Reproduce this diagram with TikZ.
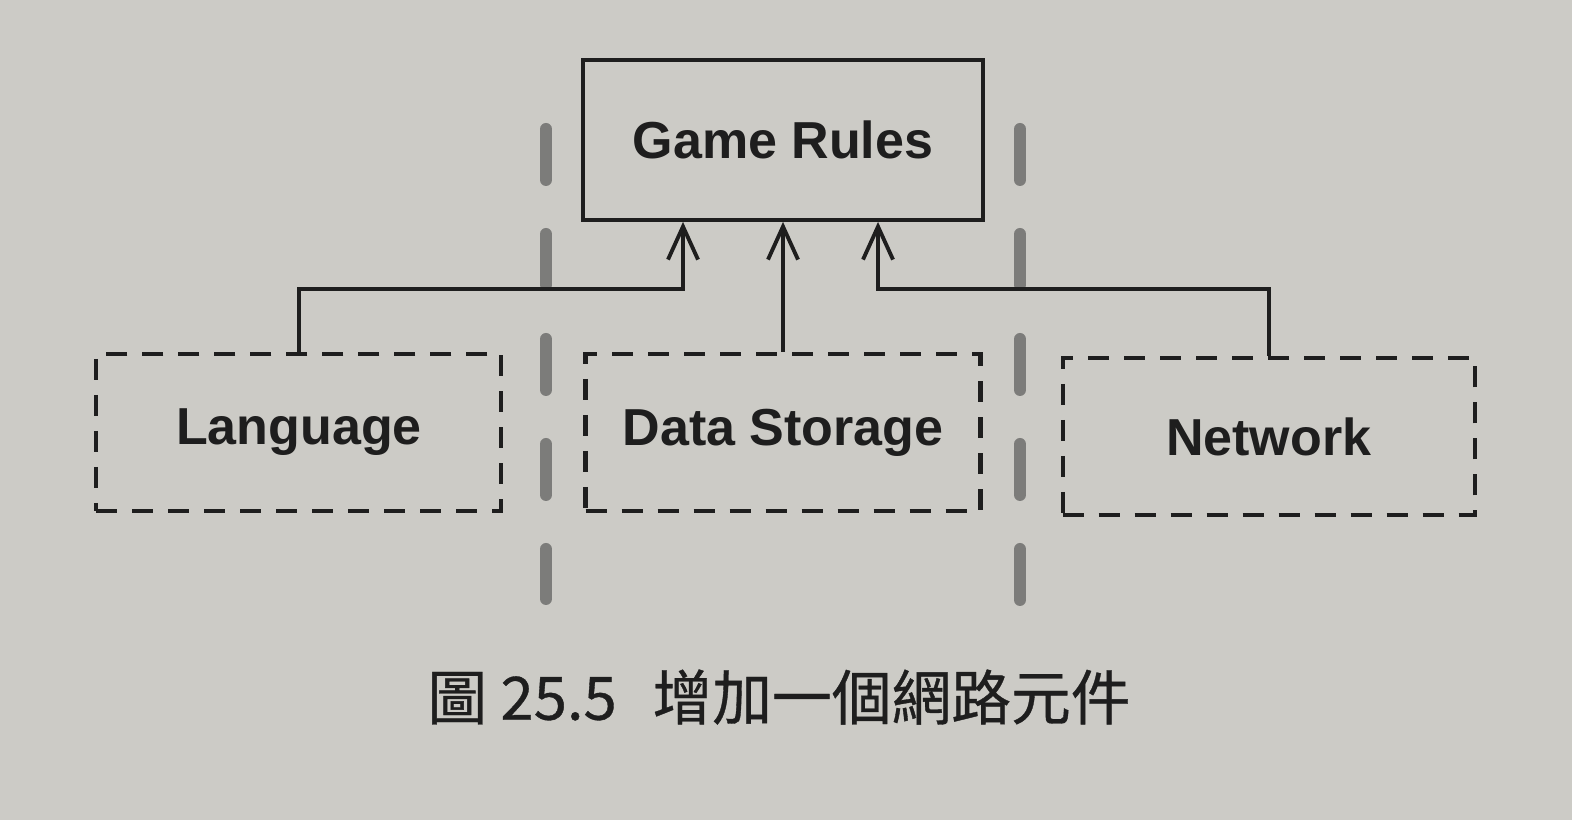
\documentclass[tikz,border=0pt]{standalone}
\usepackage{fontspec}
\setmainfont{Liberation Sans}
\newfontfamily\cjk[FakeBold=0.6]{Noto Sans CJK TC}
\usepackage{tikz}
\usetikzlibrary{positioning,arrows.meta}
\definecolor{paper}{RGB}{204,203,198}
\definecolor{ink}{RGB}{30,30,30}
\definecolor{sepgray}{RGB}{124,124,122}
\tikzset{
	rulebox/.style={draw=ink,line width=2.2pt,minimum width=8cm,minimum height=3.2cm,text=ink,font=\fontsize{29.6}{34}\selectfont\bfseries},
	modbox/.style={draw=ink,line width=2.3pt,dash pattern=on 0.42cm off 0.3cm,minimum height=3.14cm,text=ink,font=\fontsize{29.6}{34}\selectfont\bfseries},
	link/.style={draw=ink,line width=2.2pt,-{Straight Barb[length=0.66cm,width=0.6cm]}},
	sepline/.style={draw=sepgray,line width=0.24cm,line cap=round,dash pattern=on 1.02cm off 1.08cm},
}
\begin{document}
\begin{tikzpicture}
		\fill[paper] (0,0) rectangle (31.44,16.4);
		\useasboundingbox (0,0) rectangle (31.44,16.4);
		
		\coordinate (sepa) at (10.92,13.82);
		\coordinate (sepaend) at (10.92,4.42);
		\coordinate (sepb) at (20.4,13.82);
		\coordinate (sepbend) at (20.4,4.34);
		\draw[sepline] (sepa)--(sepaend);
		\draw[sepline] (sepb)--(sepbend);
		
		\node[rulebox] (game) at (15.66,13.6) {Game Rules};
		\node[modbox,minimum width=7.9cm,below=2.6cm of game] (data) {Data Storage};
		\node[modbox,minimum width=8.1cm,left=1.6cm of data] (lang) {Language};
		\node[modbox,minimum width=8.25cm,right=1.56cm of data,yshift=-0.08cm] (net) {Network};
		
		\coordinate[shift={(-2cm,0)}] (tl) at (game.south);
		\coordinate[shift={(1.9cm,0)}] (tr) at (game.south);
		\draw[link] (lang.north) |- ([yshift=-1.34cm]tl) -- (tl);
		\draw[link] (data.north) -- (data.north |- game.south);
		\draw[link] (net.north) |- ([yshift=-1.34cm]tr) -- (tr);
		
		\node[text=ink,font=\cjk\fontsize{34}{38}\selectfont] (caption) at (15.58,2.46) {圖 25.5\hspace{0.6em}增加一個網路元件};
	\end{tikzpicture}
\end{document}
